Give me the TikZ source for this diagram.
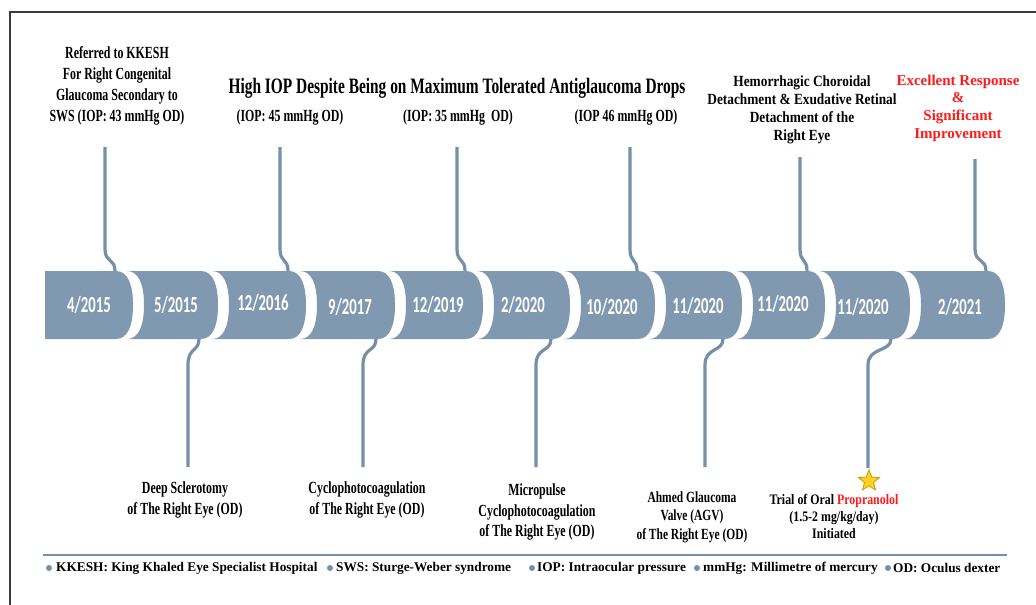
\documentclass[tikz,border=0pt]{standalone}
\usepackage{fontspec}
\usetikzlibrary{calc,shapes.geometric}
\newfontfamily\annA[FakeStretch=0.70]{Liberation Serif}
\newfontfamily\annB[FakeStretch=0.86]{Liberation Serif}
\newfontfamily\annC[FakeStretch=0.82]{Liberation Serif}
\newfontfamily\annD[FakeStretch=0.74]{Liberation Serif}
\newfontfamily\legf{Liberation Serif}
\newfontfamily\datef[FakeStretch=0.64]{Carlito}
\definecolor{segc}{HTML}{8099B0}
\definecolor{connc}{HTML}{7590A9}
\definecolor{framec}{HTML}{3A3A3A}
\definecolor{redtxt}{HTML}{FF1A1A}
\definecolor{stary}{HTML}{FFD21F}
\definecolor{staro}{HTML}{C8960A}
\tikzset{
  segfill/.style={fill=segc},
  connline/.style={draw=connc, line width=3.2pt},
  datelbl/.style={text=white, inner sep=0, font=\datef\bfseries\fontsize{23}{23}\selectfont},
  annbig/.style={align=center, inner sep=0, font=\annA\bfseries\fontsize{17}{21}\selectfont},
  annbot/.style={align=center, inner sep=0, font=\annA\bfseries\fontsize{17}{20.5}\selectfont},
  legtext/.style={anchor=west, inner sep=0, font=\legf\bfseries\fontsize{13.3}{15}\selectfont},
  legdot/.style={fill=connc, draw=none, circle, inner sep=0, minimum size=6pt},
}
\begin{document}
\begin{tikzpicture}[x=1pt,y=-1pt]
\useasboundingbox (0,0) rectangle (1036,605);
\fill[white] (0,0) rectangle (1036,605);
% frame
\draw[framec, line width=1.5pt] (10,605) -- (10,12) -- (1036,12);

% timeline segments
\fill[segfill] (45,271) -- (116,271) .. controls (128,271) and (133,285) .. (133,305)
  .. controls (133,325) and (128,339) .. (116,339) -- (45,339) -- cycle;
\foreach \L/\E in {127/218, 212/306, 300/395, 389/483, 477/570, 564/655, 649/742, 736/825, 819/910, 904/1005}{
  \pgfmathsetmacro\B{\E-17}
  \fill[segfill] (\L,271) -- (\B,271) .. controls (\B+12,271) and (\E,285) .. (\E,305)
    .. controls (\E,325) and (\B+12,339) .. (\B,339) -- (\L,339)
    .. controls (\L+12,339) and (\L+17,325) .. (\L+17,305)
    .. controls (\L+17,285) and (\L+12,271) .. (\L,271) -- cycle;
}

% date labels
\node[datelbl] (d1) at (89,305) {4/2015};
\node[datelbl] (d2) at (176,305) {5/2015};
\node[datelbl] (d3) at (263,303) {12/2016};
\node[datelbl] (d4) at (350,307) {9/2017};
\node[datelbl] (d5) at (438,305) {12/2019};
\node[datelbl] (d6) at (523,305) {2/2020};
\node[datelbl] (d7) at (612,307) {10/2020};
\node[datelbl] (d8) at (698,306) {11/2020};
\node[datelbl] (d9) at (783,304) {11/2020};
\node[datelbl] (d10) at (863,307) {11/2020};
\node[datelbl] (d11) at (960,307) {2/2021};

% connector end points
\coordinate (t1) at (105,147);  \coordinate (j1) at (115,271);
\coordinate (t2) at (280,147);  \coordinate (j2) at (288,271);
\coordinate (t3) at (457,147);  \coordinate (j3) at (465,271);
\coordinate (t4) at (630,147);  \coordinate (j4) at (637,271);
\coordinate (t5) at (800,157);  \coordinate (j5) at (807,271);
\coordinate (t6) at (975,159);  \coordinate (j6) at (986,271);
\coordinate (b1) at (188,467);  \coordinate (k1) at (199,339);
\coordinate (b2) at (363,467);  \coordinate (k2) at (376,339);
\coordinate (b3) at (536,467);  \coordinate (k3) at (551,339);
\coordinate (b4) at (705,467);  \coordinate (k4) at (723,339);
\coordinate (b5) at (868,468);  \coordinate (k5) at (891,339);

% top connectors
\foreach \t/\j in {t1/j1, t2/j2, t3/j3, t4/j4, t5/j5, t6/j6}{
  \draw[connline] (\t) -- ($(\t |- \j)+(0,-22)$)
    .. controls ($(\t |- \j)+(0,-8)$) and ($(\j)+(0,-13)$) .. (\j);
}
% bottom connectors
\foreach \k/\b in {k1/b1, k2/b2, k3/b3, k4/b4, k5/b5}{
  \draw[connline] (\k) .. controls ($(\k)+(0,13)$) and ($(\b |- \k)+(0,8)$)
    .. ($(\b |- \k)+(0,26)$) -- (\b);
}

% top annotations
\node[annbig] (ref) at (117,86) {Referred to KKESH\\For Right Congenital\\Glaucoma Secondary to\\SWS (IOP: 43 mmHg OD)};
\node[inner sep=0, font=\annA\bfseries\fontsize{22}{26}\selectfont] (title) at (457,88) {High IOP Despite Being on Maximum Tolerated Antiglaucoma Drops};
\node[annbig] (iop1) at (290,117) {(IOP: 45 mmHg OD)};
\node[annbig] (iop2) at (458,117) {(IOP: 35 mmHg\ \ OD)};
\node[annbig] (iop3) at (626,117) {(IOP 46 mmHg OD)};
\node[align=center, inner sep=0, font=\annB\bfseries\fontsize{15.5}{18}\selectfont] (hem) at (802,110) {Hemorrhagic Choroidal\\Detachment \& Exudative Retinal\\Detachment of the\\Right Eye};
\node[align=center, inner sep=0, text=redtxt, font=\legf\bfseries\fontsize{15}{17.7}\selectfont] (exc) at (958,108) {Excellent Response\\\&\\Significant\\Improvement};

% bottom annotations
\node[annbot] (deep) at (185,500) {Deep Sclerotomy\\of The Right Eye (OD)};
\node[annbot] (cyc) at (367,500) {Cyclophotocoagulation\\of The Right Eye (OD)};
\node[annbot] (micro) at (537,512) {Micropulse\\Cyclophotocoagulation\\of The Right Eye (OD)};
\node[align=center, inner sep=0, font=\annD\bfseries\fontsize{15.5}{18.5}\selectfont] (agv) at (692,517) {Ahmed Glaucoma\\Valve (AGV)\\of The Right Eye (OD)};
\node[align=center, inner sep=0, font=\annC\bfseries\fontsize{14.5}{17}\selectfont] (prop) at (834,516) {Trial of Oral \textcolor{redtxt}{Propranolol}\\(1.5-2 mg/kg/day)\\Initiated};
\node[star, star points=5, star point ratio=2.3, fill=stary, draw=staro, line width=0.8pt, minimum size=22pt, inner sep=0] (star) at (869,481) {};

% legend
\draw[connc, line width=2.5pt] (43,555) -- (1007,555);
\node[legdot] (l1) at (49,568) {};
\node[legtext] (lt1) at (56,568) {KKESH: King Khaled Eye Specialist Hospital};
\node[legdot] (l2) at (330,568) {};
\node[legtext] (lt2) at (336,568) {SWS: Sturge-Weber syndrome};
\node[legdot] (l3) at (532,568) {};
\node[legtext] (lt3) at (537,568) {IOP: Intraocular pressure};
\node[legdot] (l4) at (697,568) {};
\node[legtext] (lt4) at (703,568) {mmHg: Millimetre of mercury};
\node[legdot] (l5) at (888,568) {};
\node[legtext] (lt5) at (893,568) {OD: Oculus dexter};
\end{tikzpicture}
\end{document}
